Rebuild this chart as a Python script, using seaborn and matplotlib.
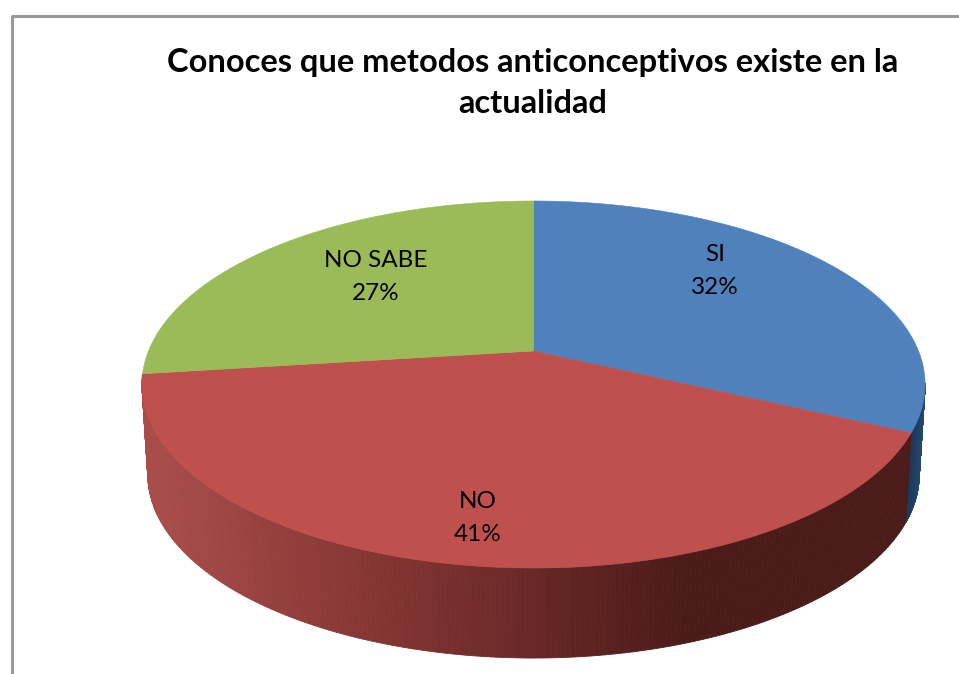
import numpy as np
import seaborn as sns
import matplotlib.pyplot as plt
from matplotlib.patches import Polygon

categories = ['SI', 'NO', 'NO SABE']
values = [32, 41, 27]
top_colors = ['#4f81bd', '#c0504d', '#9bbb59']
title = 'Conoces que metodos anticonceptivos existe en la\nactualidad'

# pie geometry in image pixels, the top face is a circle seen in perspective
cx, cy = 533.5, 351
k, a, c = 385, 177.4, 0.1826
depth, shrink = 90, 0.985

label_pos = [(715, 271), (478, 518), (376, 277)]


def project(t):
    # t in degrees, clockwise from the top of the pie
    t = np.radians(t)
    u, v = np.sin(t), np.cos(t)
    return cx + k * u / (1 + c * v), cy - a * v / (1 + c * v)


sns.set_theme(style='white')
plt.rcParams['font.family'] = ['Lato', 'DejaVu Sans']

fig = plt.figure(figsize=(9.59, 6.74), dpi=100)
ax = fig.add_axes([0, 0, 1, 1])
ax.set_xlim(0, 959)
ax.set_ylim(674, 0)
ax.axis('off')

# chart frame, runs off the right and bottom of the picture
ax.plot([11.5, 11.5, 959], [674, 15.5, 15.5], color='#999999', lw=2.2, solid_capstyle='butt')

edges = np.cumsum([0] + values) / sum(values) * 360

# side wall, one thin strip per step so the shade can change along it
red_wall = sns.blend_palette(['#a84d4a', '#8c3a38', '#6c2a28', '#4b1b19'], 64)
blue_wall = sns.blend_palette(['#17324f', '#24486e'], 16)


def wall(t0, t1, palette, x0, x1):
    ts = np.linspace(t0, t1, 241)
    for t_a, t_b in zip(ts[:-1], ts[1:]):
        xa, ya = project(t_a)
        xb, yb = project(t_b)
        xm = (xa + xb) / 2
        frac = np.clip((xm - x0) / (x1 - x0), 0, 0.999)
        col = palette[int(frac * len(palette))]
        pts = [(xa, ya), (xb, yb),
               (cx + (xb - cx) * shrink, yb + depth),
               (cx + (xa - cx) * shrink, ya + depth)]
        ax.add_patch(Polygon(pts, closed=True, fc=col, ec=col, lw=0.6))


wall(100, edges[1], blue_wall, 905, 925)
wall(edges[1], edges[2], red_wall, 150, 690)

# top face
for i, name in enumerate(categories):
    ts = np.linspace(edges[i], edges[i + 1], 200)
    xs, ys = project(ts)
    pts = [(cx, cy)] + list(zip(xs, ys))
    ax.add_patch(Polygon(pts, closed=True, fc=top_colors[i], ec=top_colors[i], lw=0.4))
    ax.text(label_pos[i][0], label_pos[i][1], f'{name}\n{values[i]}%', ha='center', va='center',
            fontsize=17.5, color='black', linespacing=1.65)

ax.text(533, 83, title, ha='center', va='center', fontsize=23.5, fontweight='bold',
        color='black', linespacing=1.5)

fig.savefig('out.png', dpi=100)
